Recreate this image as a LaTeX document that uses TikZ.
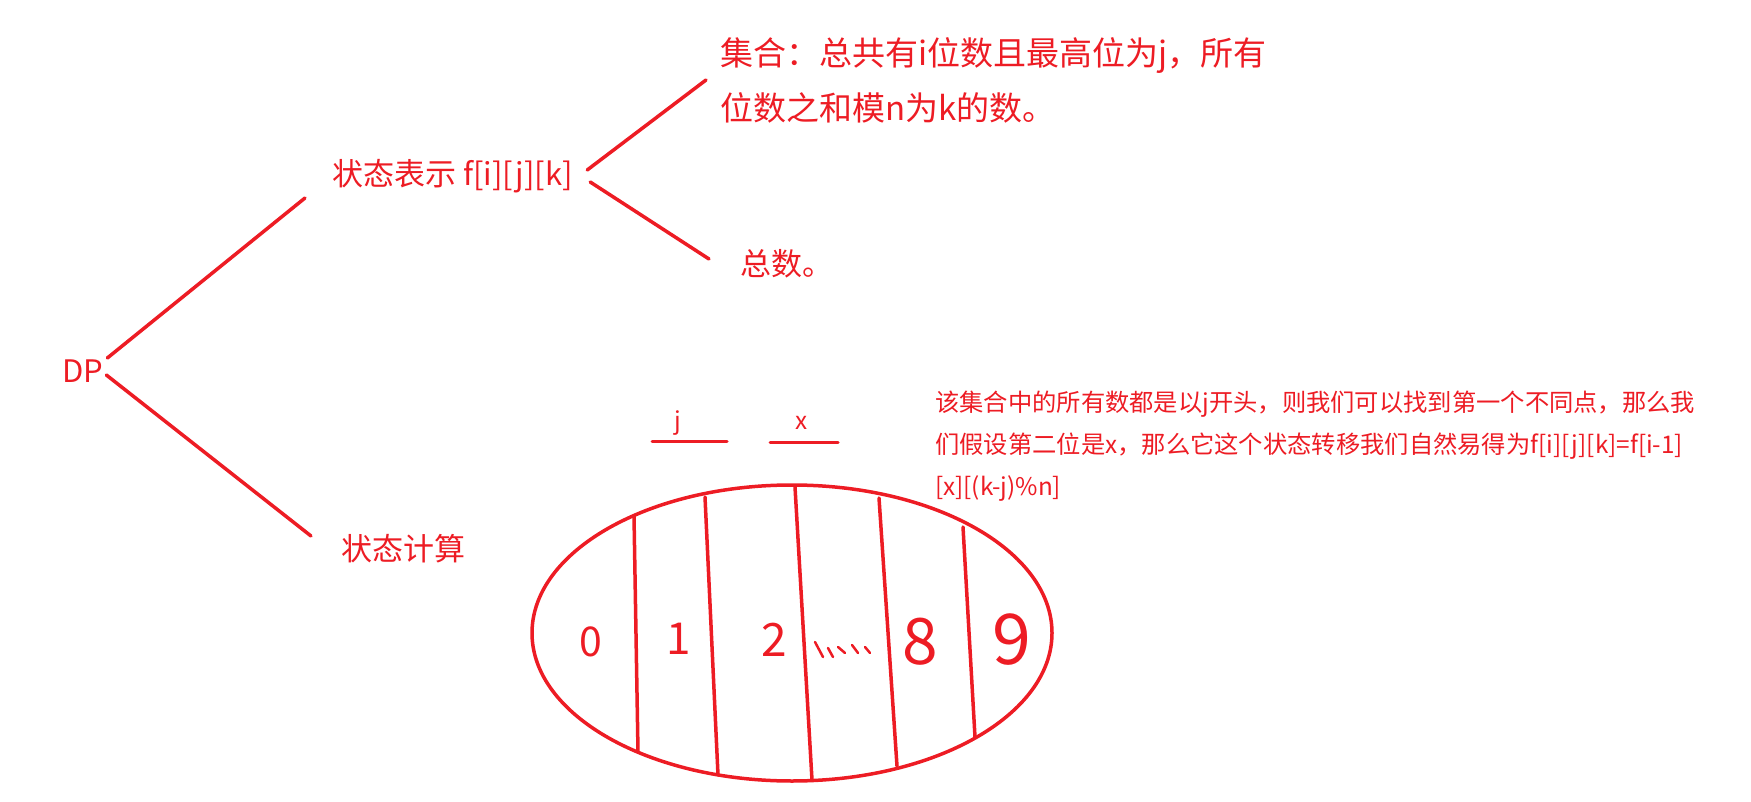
\documentclass[tikz,border=0pt]{standalone}
\usepackage{fontspec}
\setmainfont{Noto Sans CJK SC}
\definecolor{pen}{RGB}{237,28,36}

\begin{document}
\begin{tikzpicture}[x=1pt,y=-1pt,
  every node/.style={text=pen,inner sep=0pt},
  big/.style={font=\fontsize{31}{31}\selectfont},
  mid/.style={font=\fontsize{33}{33}\selectfont},
  small/.style={font=\fontsize{24.3}{24.3}\selectfont},
  hand/.style={font=\fontsize{#1}{#1}\selectfont},
  stroke/.style={draw=pen,line width=3.5pt,line cap=round},
  fine/.style={draw=pen,line width=2.5pt,line cap=round}]
  \useasboundingbox (0,0) rectangle (1751,802);

  % the tree on the left
  \node[big,anchor=base west] (dp) at (62,382) {DP};
  \node[big,anchor=base west] (state) at (332,186) {状态表示 f[i][j][k]};
  \node[big,anchor=base west] (calc) at (341,560) {状态计算};
  \node[mid,anchor=base west] (set1) at (720,66) {集合：总共有i位数且最高位为j，所有};
  \node[mid,anchor=base west] (set2) at (720,121) {位数之和模n为k的数。};
  \node[big,anchor=base west] (total) at (740,276) {总数。};

  \draw[stroke] ([shift={(4,-24)}]dp.base east) -- ([shift={(-27,12)}]state.base west);
  \draw[stroke] ([shift={(3,-7)}]dp.base east) -- ([shift={(-30,-24)}]calc.base west);
  \draw[stroke] ([shift={(14,-16)}]state.base east) -- ([shift={(-14,14)}]set1.base west);
  \draw[stroke] ([shift={(17,-4)}]state.base east) -- ([shift={(-31,-17)}]total.base west);

  % the note
  \node[small,anchor=base west] (p1) at (935,411) {该集合中的所有数都是以j开头，则我们可以找到第一个不同点，那么我};
  \node[small,anchor=base west] (p2) at (935,453) {们假设第二位是x，那么它这个状态转移我们自然易得为f[i][j][k]=f[i-1]};
  \node[small,anchor=base west] (p3) at (935,495) {[x][(k-j)\%n]};

  % first and second digit
  \node[small,anchor=base] (j) at (678,429) {j};
  \node[small,anchor=base] (x) at (802,429) {x};
  \draw[fine,line width=3pt] ([shift={(-26,12)}]j.base) -- ([shift={(49,12)}]j.base);
  \draw[fine,line width=3pt] ([shift={(-32,13)}]x.base) -- ([shift={(36,13)}]x.base);

  % the set, cut by the second digit
  \draw[stroke] (792,633) ellipse [x radius=260,y radius=148];
  \foreach \tx/\ty/\bx/\by in {634/516/638/752, 705/497/718/775, 795/487/812/780,
                               879/498/897/766, 963/527/975/737}
    \draw[stroke] (\tx,\ty) -- (\bx,\by);

  \node[hand=41] (d0) at (591,642) {0};
  \node[hand=44] (d1) at (679,639) {1};
  \node[hand=46] (d2) at (774,640) {2};
  \node[hand=64] (d8) at (920,642) {8};
  \node[hand=70] (d9) at (1012,640) {9};
  \foreach \a/\b/\c/\d in {815/642/823/657, 828/648/833/657, 838/647/845/653,
                           852/645/858/653, 865/647/870/653}
    \draw[fine] (\a,\b) -- (\c,\d);
\end{tikzpicture}
\end{document}
